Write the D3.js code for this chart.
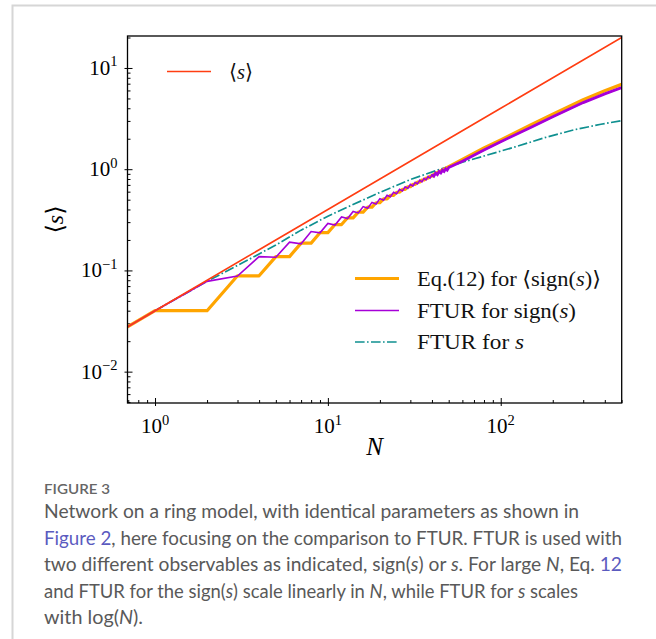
<!DOCTYPE html>
<html><head><meta charset="utf-8">
<script src="https://cdn.jsdelivr.net/npm/d3@7"></script>
<style>body{margin:0;background:#fff} svg{display:block}</style>
</head><body><svg id="c" width="656" height="639"></svg>
<script>
// ---------------- data ----------------
const xDomain = [0.693, 501];
const yDomain = [0.0049, 20.7];
const xMajorTicks = [1, 10, 100];
const yMajorTicks = [0.01, 0.1, 1, 10];
const xTickExp = ["0", "1", "2"];
const yTickExp = ["\u22122", "\u22121", "0", "1"];

// <s>
const redN = [0.693, 1, 10, 100, 501];
const redS = [0.0277, 0.04, 0.4, 4.0, 20.0];

// Eq.(12) for <sign(s)>
const orangeN = [0.693, 1, 2, 3, 4, 5, 6, 7, 8, 9, 10, 11, 12, 13, 14, 15, 16, 17, 18, 19, 20,
  21, 22, 23, 24, 25, 26, 27, 28, 29, 30, 31, 32, 33, 34, 35, 36, 37, 38, 39, 40, 41,
  50, 60, 80, 100, 150, 200, 300, 400, 501];
const orangeS = [0.0277, 0.040, 0.040, 0.0885, 0.0885, 0.137, 0.137, 0.186, 0.186, 0.236, 0.236,
  0.284, 0.284, 0.331, 0.331, 0.377, 0.377, 0.422, 0.422, 0.466, 0.466,
  0.509, 0.509, 0.551, 0.551, 0.592, 0.592, 0.632, 0.632, 0.671, 0.671, 0.709, 0.709,
  0.746, 0.746, 0.782, 0.782, 0.818, 0.818, 0.853, 0.853, 0.888,
  1.06, 1.25, 1.62, 1.95, 2.75, 3.5, 4.85, 5.95, 6.9];

// FTUR for sign(s)
const purpleN = [0.693, 1, 2, 3, 4, 5, 6, 7, 8, 9, 10, 11, 12, 13, 14, 15, 16, 17, 18, 19, 20,
  21, 22, 23, 24, 25, 26, 27, 28, 29, 30, 31, 32, 33, 34, 35, 36, 37, 38, 39, 40,
  41, 42, 43, 44, 45, 46, 47, 48, 49, 50, 60, 80, 100, 150, 200, 300, 400, 501];
const purpleS = [0.0277, 0.040, 0.078, 0.088, 0.137, 0.135, 0.190, 0.183, 0.242, 0.235,
  0.291, 0.281, 0.338, 0.326, 0.383, 0.370, 0.427, 0.412, 0.470, 0.454, 0.512,
  0.494, 0.553, 0.534, 0.593, 0.572, 0.632, 0.610, 0.670, 0.647, 0.707,
  0.682, 0.743, 0.717, 0.778, 0.751, 0.813, 0.785, 0.847, 0.818, 0.881,
  0.852, 0.914, 0.885, 0.946, 0.918, 0.978, 0.950, 1.009, 0.980, 1.040,
  1.20, 1.55, 1.87, 2.6, 3.3, 4.55, 5.55, 6.4];

// FTUR for s
const tealN = [0.693, 1, 2, 3, 5, 7, 10, 13.4, 20, 30, 43, 60, 80, 124, 180, 263, 380, 501];
const tealS = [0.0277, 0.040, 0.078, 0.112, 0.178, 0.25, 0.343, 0.433, 0.59, 0.79, 0.98,
  1.17, 1.35, 1.68, 2.05, 2.44, 2.78, 3.02];

const legendLabels = ["Eq.(12) for ", "FTUR for sign(", "FTUR for "];

const captionTitle = "FIGURE 3";
const captionLines = [
  [["Network on a ring model, with identical parameters as shown in", "n"]],
  [["Figure 2", "l"], [", here focusing on the comparison to FTUR. FTUR is used with", "n"]],
  [["two different observables as indicated, sign(", "n"], ["s", "i"], [") or ", "n"], ["s", "i"],
   [". For large ", "n"], ["N", "i"], [", Eq. ", "n"], ["12", "l"]],
  [["and FTUR for the sign(", "n"], ["s", "i"], [") scale linearly in ", "n"], ["N", "i"],
   [", while FTUR for ", "n"], ["s", "i"], [" scales", "n"]],
  [["with log(", "n"], ["N", "i"], [").", "n"]]
];
const captionWidths = [535, 578, 578, 534, 99];

// ---------------- drawing ----------------
const svg = d3.select("#c");
const L = 127.5, R = 621.7, T = 36, B = 403;
const x = d3.scaleLog().domain(xDomain).range([L, R]);
const y = d3.scaleLog().domain(yDomain).range([B, T]);
const serif = "'Liberation Serif', 'DejaVu Serif', serif";

// card border
svg.append("path").attr("d", "M12.5,660 L12.5,5.5 L700,5.5")
  .attr("fill", "none").attr("stroke", "#d6d6d6").attr("stroke-width", 2);

svg.append("defs").append("clipPath").attr("id", "clip")
  .append("rect").attr("x", L).attr("y", T).attr("width", R - L).attr("height", B - T);

function minorTicks(dom) {
  const out = [];
  for (let e = -4; e <= 4; e++) for (let m = 2; m <= 9; m++) {
    const v = m * Math.pow(10, e);
    if (v > dom[0] && v < dom[1]) out.push(v);
  }
  return out;
}

// axes (ticks drawn inward)
const gx = svg.append("g");
gx.append("g").attr("transform", `translate(0,${B})`)
  .call(d3.axisTop(x).tickValues(minorTicks(xDomain)).tickSize(3).tickFormat(""));
gx.append("g").attr("transform", `translate(0,${B})`)
  .call(d3.axisTop(x).tickValues(xMajorTicks).tickSize(5).tickFormat(""));
gx.append("g").attr("transform", `translate(0,${B})`)
  .call(d3.axisBottom(x).tickValues(xMajorTicks).tickSize(3).tickFormat(""));
const gy = svg.append("g");
gy.append("g").attr("transform", `translate(${L},0)`)
  .call(d3.axisRight(y).tickValues(minorTicks(yDomain)).tickSize(3).tickFormat(""));
gy.append("g").attr("transform", `translate(${L},0)`)
  .call(d3.axisRight(y).tickValues(yMajorTicks).tickSize(5).tickFormat(""));
gy.append("g").attr("transform", `translate(${L},0)`)
  .call(d3.axisLeft(y).tickValues(yMajorTicks).tickSize(3).tickFormat(""));
svg.selectAll(".domain").remove();
svg.selectAll(".tick line").attr("stroke", "#000").attr("stroke-width", 1);

// tick labels
xMajorTicks.forEach((v, i) => {
  const t = svg.append("text").attr("x", x(v)).attr("y", B + 30)
    .attr("text-anchor", "middle").attr("font-family", serif).attr("font-size", 21);
  t.append("tspan").text("10");
  t.append("tspan").attr("dy", -8.5).attr("font-size", 14.5).text(xTickExp[i]);
});
yMajorTicks.forEach((v, i) => {
  const t = svg.append("text").attr("x", L - 10).attr("y", y(v) + 7)
    .attr("text-anchor", "end").attr("font-family", serif).attr("font-size", 21);
  t.append("tspan").text("10");
  t.append("tspan").attr("dy", -8.5).attr("font-size", 14.5).text(yTickExp[i]);
});

// axis labels
svg.append("text").attr("x", (L + R) / 2).attr("y", 455).attr("text-anchor", "middle")
  .attr("font-family", serif).attr("font-size", 25).attr("font-style", "italic").text("N");
const yl = svg.append("text").attr("transform", `translate(63,${(T + B) / 2}) rotate(-90)`)
  .attr("text-anchor", "middle").attr("font-family", serif).attr("font-size", 24);
yl.append("tspan").text("\u27E8");
yl.append("tspan").attr("font-style", "italic").text("s");
yl.append("tspan").text("\u27E9");

// lines
const line = d3.line().x(d => x(d[0])).y(d => y(d[1]));
const plot = svg.append("g").attr("clip-path", "url(#clip)");
const zip = (a, b) => a.map((v, i) => [v, b[i]]);
const purplePts = zip(purpleN, purpleS);

plot.append("path").attr("d", line(zip(tealN, tealS)))
  .attr("fill", "none").attr("stroke", "#0f9090").attr("stroke-width", 1.7)
  .attr("stroke-dasharray", "9.6,2.4,1.6,2.4");
plot.append("path").attr("d", line(zip(orangeN, orangeS)))
  .attr("fill", "none").attr("stroke", "#ffa500").attr("stroke-width", 3.2)
  .attr("stroke-linejoin", "round");
plot.append("path").attr("d", line(purplePts))
  .attr("fill", "none").attr("stroke", "#a600d8").attr("stroke-width", 1.6);
plot.append("path").attr("d", line(purplePts.filter(d => d[0] >= 40)))
  .attr("fill", "none").attr("stroke", "#a600d8").attr("stroke-width", 2.8);
plot.append("path").attr("d", line(zip(redN, redS)))
  .attr("fill", "none").attr("stroke", "#ff3d12").attr("stroke-width", 1.6);

// frame
svg.append("rect").attr("x", L).attr("y", T).attr("width", R - L).attr("height", B - T)
  .attr("fill", "none").attr("stroke", "#000").attr("stroke-width", 1.3);

// legends
function legendText(xp, yp, parts, w) {
  const t = svg.append("text").attr("x", xp).attr("y", yp)
    .attr("font-family", serif).attr("font-size", 21).attr("fill", "#111")
    .attr("textLength", w).attr("lengthAdjust", "spacingAndGlyphs");
  parts.forEach(p => t.append("tspan").attr("font-style", p[1] ? "italic" : null).text(p[0]));
}
svg.append("line").attr("x1", 167).attr("x2", 211).attr("y1", 71.5).attr("y2", 71.5)
  .attr("stroke", "#ff3d12").attr("stroke-width", 1.6);
legendText(229, 79, [["\u27E8", 0], ["s", 1], ["\u27E9", 0]], 24);

const lg = [
  {y: 278.5, c: "#ffa500", w: 3.2, d: null, tw: 184,
   parts: [[legendLabels[0], 0], ["\u27E8sign(", 0], ["s", 1], [")\u27E9", 0]]},
  {y: 310.5, c: "#a600d8", w: 1.6, d: null, tw: 159,
   parts: [[legendLabels[1], 0], ["s", 1], [")", 0]]},
  {y: 342, c: "#0f9090", w: 1.7, d: "9.6,2.4,1.6,2.4", tw: 107,
   parts: [[legendLabels[2], 0], ["s", 1]]}
];
lg.forEach(e => {
  svg.append("line").attr("x1", 355).attr("x2", 399).attr("y1", e.y).attr("y2", e.y)
    .attr("stroke", e.c).attr("stroke-width", e.w).attr("stroke-dasharray", e.d);
  legendText(417, e.y + 7, e.parts, e.tw);
});

// caption
const sans = "Lato, 'Open Sans', sans-serif";
svg.append("text").attr("x", 44).attr("y", 494).attr("font-family", sans)
  .attr("font-size", 14).attr("font-weight", 600).attr("fill", "#666")
  .attr("textLength", 66).attr("lengthAdjust", "spacingAndGlyphs").text(captionTitle);
captionLines.forEach((ln, i) => {
  const t = svg.append("text").attr("x", 44).attr("y", 518 + i * 26.5)
    .attr("font-family", sans).attr("font-size", 18.5).attr("fill", "#595959")
    .attr("textLength", captionWidths[i]).attr("lengthAdjust", "spacingAndGlyphs");
  ln.forEach(p => {
    const s = t.append("tspan").text(p[0]);
    if (p[1] === "i") s.attr("font-style", "italic");
    if (p[1] === "l") s.attr("fill", "#5b5bbf");
  });
});
</script></body></html>
